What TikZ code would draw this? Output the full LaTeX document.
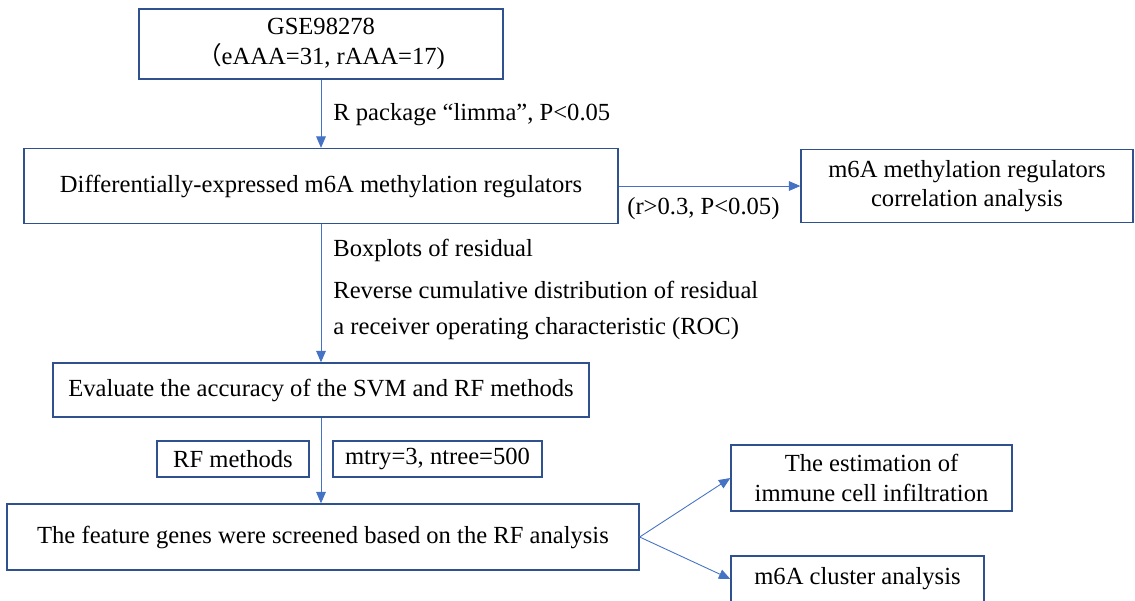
\documentclass[tikz,border=0pt]{standalone}
\usepackage{fontspec}
\setmainfont{Liberation Serif}
\newfontfamily\cjk{Noto Sans CJK SC}
\usepackage{tikz}
\usetikzlibrary{arrows.meta, positioning}
\usepackage{xcolor}
\definecolor{boxblue}{RGB}{47, 82, 143}
\definecolor{arrowblue}{RGB}{68, 114, 196}

\begin{document}
\begin{tikzpicture}[x=0.02cm, y=-0.02cm,
    every node/.style={font=\fontsize{14}{16.8}\selectfont},
    box/.style={draw=boxblue, line width=0.8pt, fill=white, align=center, inner sep=0pt},
    arr/.style={draw=arrowblue, line width=0.5pt, -{Triangle[length=6.5pt, width=5.5pt]}},
    lbl/.style={anchor=west, inner sep=0pt}]
        \useasboundingbox (0,0) rectangle (1135,600);
        
        % ── Box 1: data set ─────────────────────────────────────────────
        \node[box, minimum width=7.28cm, minimum height=1.4cm]
        (gse) at (321, 44) {GSE98278\\{\cjk （}eAAA=31, rAAA=17)};
        
        % ── Box 2: DE regulators + correlation ──────────────────────────
        \node[box, minimum width=11.88cm, minimum height=1.5cm]
        (diff) at (321, 186) {Differentially-expressed m6A methylation regulators};
        \node[box, minimum width=6.64cm, minimum height=1.46cm]
        (corr) at (967, 186) {m6A methylation regulators\\correlation analysis};
        
        % ── Box 3: SVM / RF evaluation ──────────────────────────────────
        \node[box, minimum width=10.72cm, minimum height=1.08cm]
        (eval) at (321, 390) {Evaluate the accuracy of the SVM and RF methods};
        
        % ── Small boxes on the RF arrow ─────────────────────────────────
        \node[box, minimum width=3.04cm, minimum height=0.72cm]
        (rfm) at (233, 459) {RF methods};
        \node[box, minimum width=4.18cm, minimum height=0.72cm]
        (mtry) at (437.5, 459) {mtry=3, ntree=500};
        
        % ── Box 4: feature genes + follow-up analyses ───────────────────
        \node[box, minimum width=12.64cm, minimum height=1.32cm]
        (feat) at (323, 537) {The feature genes were screened based on the RF analysis};
        \node[box, minimum width=5.62cm, minimum height=1.32cm]
        (est) at (871.5, 478) {The estimation of\\immune cell infiltration};
        \node[box, minimum width=5.06cm, minimum height=0.92cm]
        (clus) at (857.5, 579) {m6A cluster analysis};
        
        % ── Arrows ──────────────────────────────────────────────────────
        \draw[arr] (gse.south) -- (diff.north);
        \draw[arr] (diff.east) -- (corr.west);
        \draw[arr] (diff.south) -- (eval.north);
        \draw[arr] (eval.south) -- (eval.south |- feat.north);
        \draw[arr] (feat.east) -- (est.west);
        \draw[arr] (feat.east) -- (clus.west);
        
        % ── Arrow labels ────────────────────────────────────────────────
        \node[lbl] (limma) at (333, 115) {R package “limma”, P<0.05};
        \node[lbl] (rcut) at (627, 209) {(r>0.3, P<0.05)};
        \node[lbl] (box1) at (333, 250) {Boxplots of residual};
        \node[lbl] (box2) at (333, 290) {Reverse cumulative distribution of residual};
        \node[lbl] (box3) at (333, 329) {a receiver operating characteristic (ROC)};
      \end{tikzpicture}
\end{document}
